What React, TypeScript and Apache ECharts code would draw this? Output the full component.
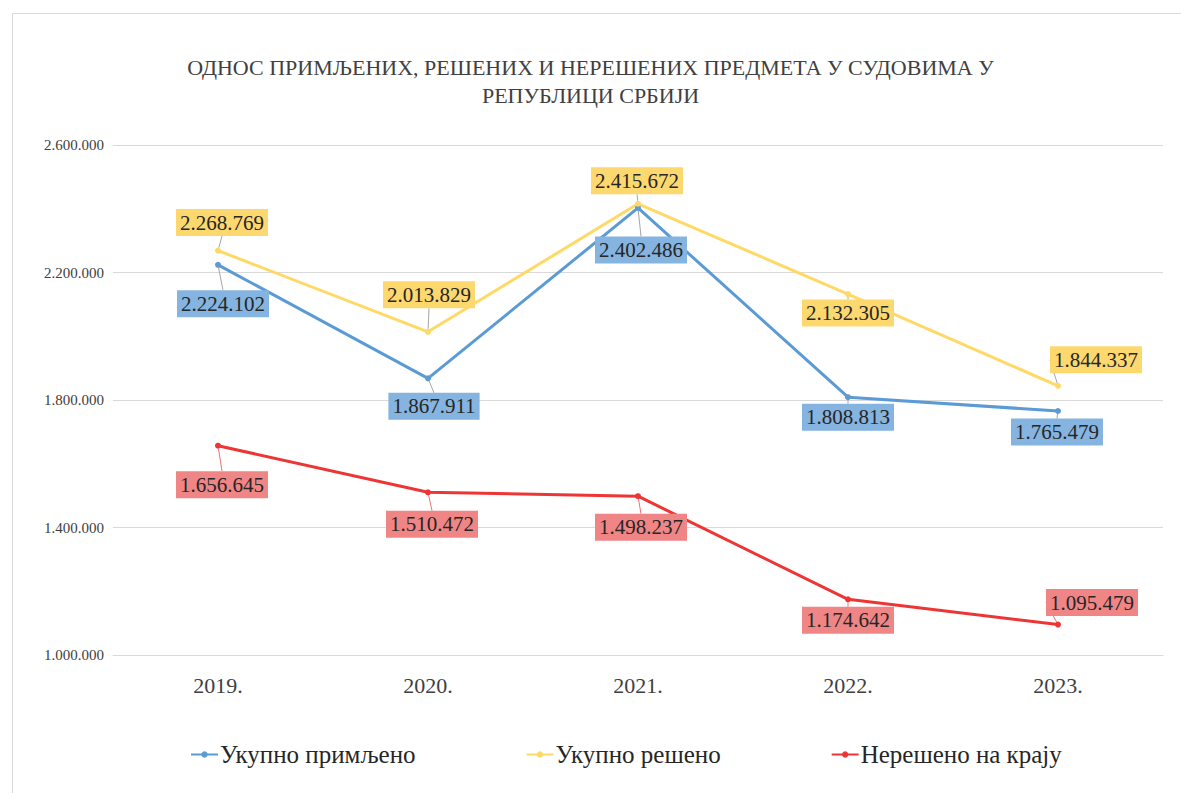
import React, { useEffect, useRef } from "react";
import * as echarts from "echarts";

const categories = ["2019.", "2020.", "2021.", "2022.", "2023."];
const seriesNames = ["Укупно примљено", "Укупно решено", "Нерешено на крају"];
const received = [2224102, 1867911, 2402486, 1808813, 1765479];
const resolved = [2268769, 2013829, 2415672, 2132305, 1844337];
const unresolved = [1656645, 1510472, 1498237, 1174642, 1095479];
const yTicks = { min: 1000000, max: 2600000, interval: 400000 };
const titleText = "ОДНОС ПРИМЉЕНИХ, РЕШЕНИХ И НЕРЕШЕНИХ ПРЕДМЕТА У СУДОВИМА У\nРЕПУБЛИЦИ СРБИЈИ";

const lineColors = ["#5B9BD5", "#FFD966", "#EE3535"];
const labelBgs = ["#85B4E0", "#FDD86E", "#F08586"];
const leaderColors = ["#A6A6A6", "#A6A6A6", "#F07070"];
const labelOffsets = [
  [[5, 39], [6, 28], [3, 42], [0, 20], [-1, 21]],
  [[4, -28], [1, -37], [-1, -23], [0, 19], [38, -26]],
  [[4, 39], [4, 32], [3, 31], [0, 21], [34, -22]],
];

const fmt = (v: number) => String(Math.round(v)).replace(/\B(?=(\d{3})+(?!\d))/g, ".");
const FONT = "Liberation Serif";

export default function App() {
  const ref = useRef<HTMLDivElement>(null);
  useEffect(() => {
    if (!ref.current) return;
    const chart = echarts.init(ref.current, null, { renderer: "svg" });
    const datasets = [received, resolved, unresolved];
    chart.setOption({
      animation: false,
      backgroundColor: "#ffffff",
      textStyle: { fontFamily: FONT },
      title: {
        text: titleText,
        left: "center",
        top: 48,
        textStyle: { fontFamily: FONT, fontSize: 22, fontWeight: "normal", color: "#404040", lineHeight: 28 },
      },
      graphic: [
        {
          type: "rect",
          shape: { x: 12.5, y: 13.5, width: 1200, height: 800 },
          style: { fill: "none", stroke: "#D9D9D9", lineWidth: 1 },
          silent: true,
        },
      ],
      legend: {
        top: 737,
        left: 185,
        itemGap: 110,
        itemWidth: 27,
        itemHeight: 8,
        textStyle: { fontFamily: FONT, fontSize: 25, color: "#262626", padding: [0, 0, 0, -3] },
        data: seriesNames,
      },
      grid: { left: 113, right: 18, top: 145, bottom: 138 },
      xAxis: {
        type: "category",
        data: categories,
        boundaryGap: true,
        axisLine: { lineStyle: { color: "#D9D9D9" } },
        axisTick: { show: false },
        axisLabel: { fontFamily: FONT, fontSize: 22, color: "#404040", margin: 19 },
      },
      yAxis: {
        type: "value",
        min: yTicks.min,
        max: yTicks.max,
        interval: yTicks.interval,
        axisLine: { show: false },
        axisTick: { show: false },
        splitLine: { lineStyle: { color: "#D9D9D9" } },
        axisLabel: { fontFamily: FONT, fontSize: 15, color: "#404040", margin: 9, formatter: (v: number) => fmt(v) },
      },
      series: datasets.map((d, si) => ({
        name: seriesNames[si],
        type: "line",
        data: d,
        symbol: "circle",
        symbolSize: 6,
        lineStyle: { width: 3, color: lineColors[si] },
        itemStyle: { color: lineColors[si] },
        label: {
          show: true,
          position: "inside",
          formatter: (p: any) => fmt(p.value),
          fontFamily: FONT,
          fontSize: 21,
          lineHeight: 21,
          color: "#262626",
          backgroundColor: labelBgs[si],
          padding: [3, 4, 3, 4],
        },
        labelLine: { show: true, lineStyle: { color: leaderColors[si], width: 1 } },
        labelLayout: (p: any) => {
          const o = labelOffsets[si][p.dataIndex];
          return { dx: o[0], dy: o[1] };
        },
      })),
    });
    return () => chart.dispose();
  }, []);
  return (
    <div style={{ position: "fixed", left: 0, top: 0, width: 1181, height: 793, background: "#fff" }}>
      <div ref={ref} style={{ width: 1181, height: 793 }} />
    </div>
  );
}
